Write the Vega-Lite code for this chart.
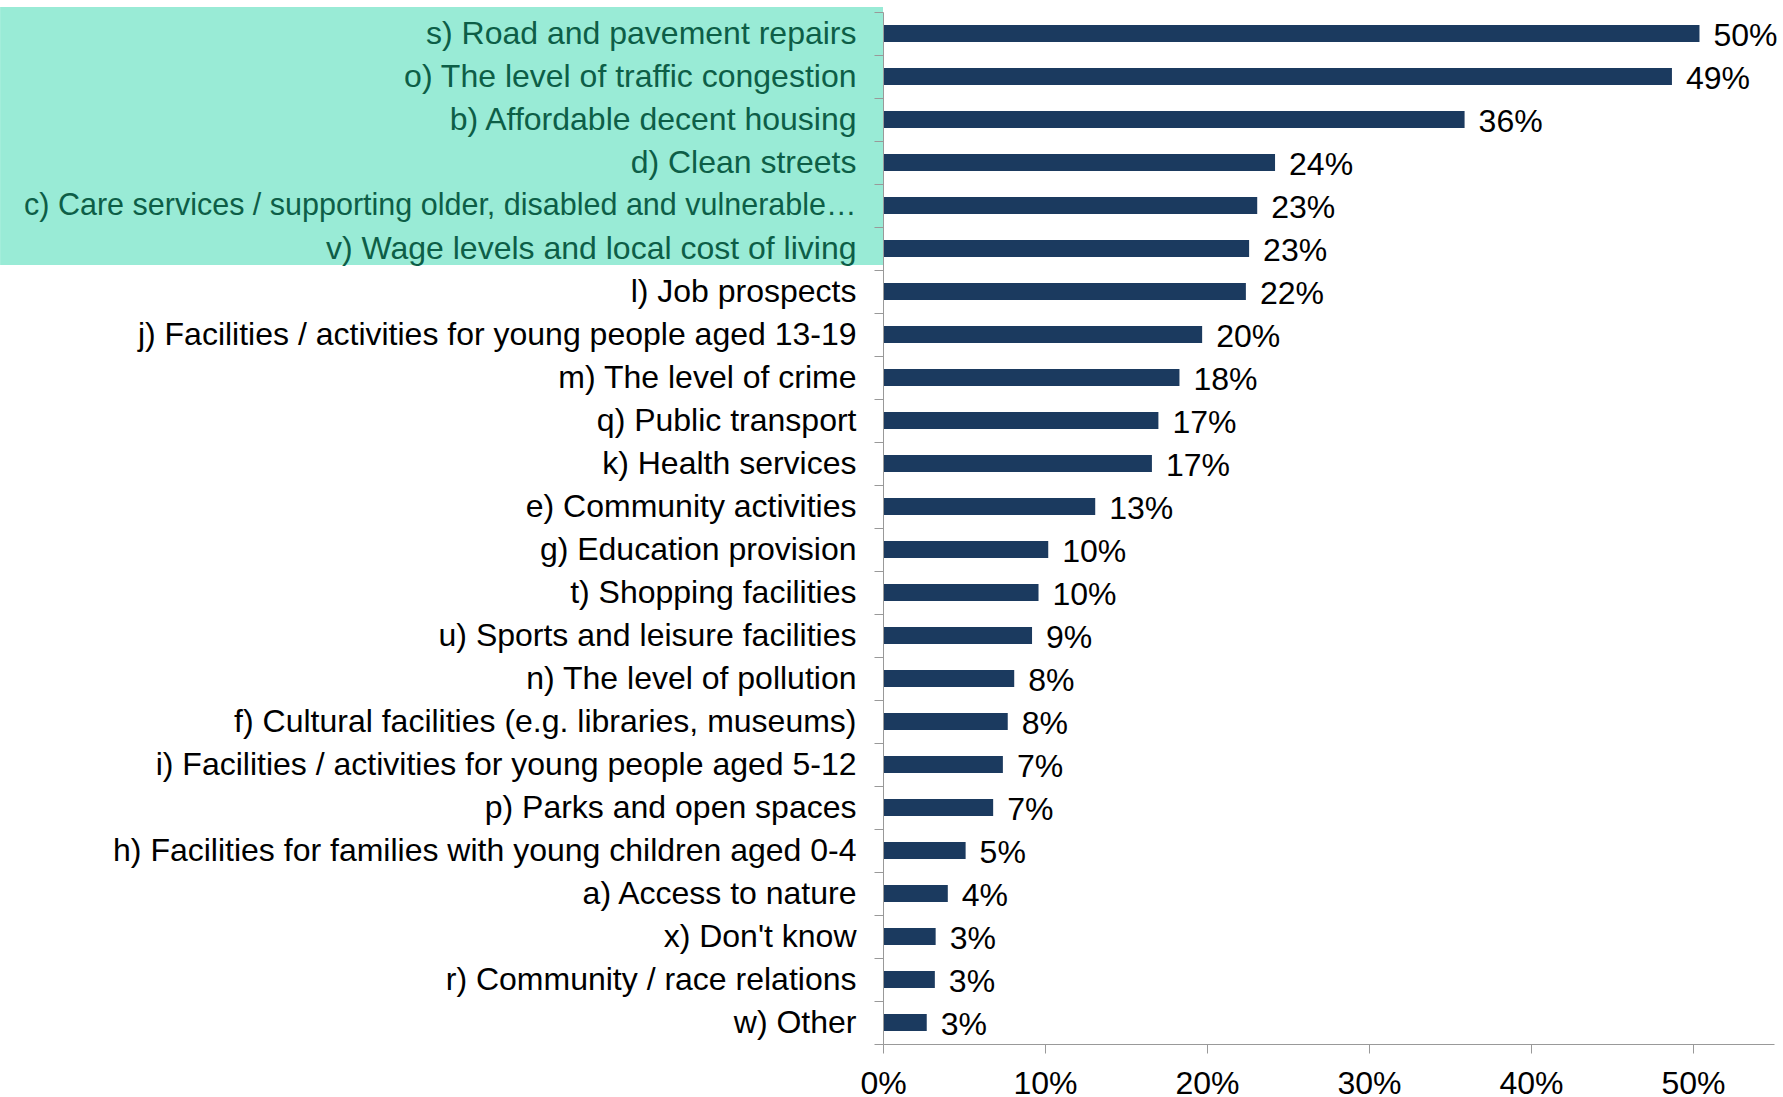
{
  "$schema": "https://vega.github.io/schema/vega-lite/v6.json",
  "width": 891,
  "height": 1032,
  "autosize": "none",
  "padding": {"left": 883, "top": 12, "right": 9, "bottom": 53},
  "background": "white",
  "config": {"view": {"stroke": null}, "font": "Liberation Sans"},
  "data": {"values": [
    {"item": "s) Road and pavement repairs", "value": 0.504, "hl": 1},
    {"item": "o) The level of traffic congestion", "value": 0.487, "hl": 1},
    {"item": "b) Affordable decent housing", "value": 0.359, "hl": 1},
    {"item": "d) Clean streets", "value": 0.242, "hl": 1},
    {"item": "c) Care services / supporting older, disabled and vulnerable…", "value": 0.231, "hl": 1},
    {"item": "v) Wage levels and local cost of living", "value": 0.226, "hl": 1},
    {"item": "l) Job prospects", "value": 0.224, "hl": 0},
    {"item": "j) Facilities / activities for young people aged 13-19", "value": 0.197, "hl": 0},
    {"item": "m) The level of crime", "value": 0.183, "hl": 0},
    {"item": "q) Public transport", "value": 0.170, "hl": 0},
    {"item": "k) Health services", "value": 0.166, "hl": 0},
    {"item": "e) Community activities", "value": 0.131, "hl": 0},
    {"item": "g) Education provision", "value": 0.102, "hl": 0},
    {"item": "t) Shopping facilities", "value": 0.096, "hl": 0},
    {"item": "u) Sports and leisure facilities", "value": 0.092, "hl": 0},
    {"item": "n) The level of pollution", "value": 0.081, "hl": 0},
    {"item": "f) Cultural facilities (e.g. libraries, museums)", "value": 0.077, "hl": 0},
    {"item": "i) Facilities / activities for young people aged 5-12", "value": 0.074, "hl": 0},
    {"item": "p) Parks and open spaces", "value": 0.068, "hl": 0},
    {"item": "h) Facilities for families with young children aged 0-4", "value": 0.051, "hl": 0},
    {"item": "a) Access to nature", "value": 0.040, "hl": 0},
    {"item": "x) Don't know", "value": 0.0325, "hl": 0},
    {"item": "r) Community / race relations", "value": 0.032, "hl": 0},
    {"item": "w) Other", "value": 0.027, "hl": 0}
  ]},
  "encoding": {
    "y": {
      "field": "item", "type": "nominal", "sort": null,
      "scale": {"paddingInner": 0, "paddingOuter": 0},
      "axis": {
        "title": null, "zindex": 1,
        "labelFontSize": {"condition": {"test": "indexof(['c) Care services / supporting older, disabled and vulnerable…'], datum.value) >= 0", "value": 30.5}, "value": 32},
        "labelLimit": 1000, "labelPadding": 18,
        "labelColor": {"condition": {"test": "indexof(['s) Road and pavement repairs','o) The level of traffic congestion','b) Affordable decent housing','d) Clean streets','c) Care services / supporting older, disabled and vulnerable…','v) Wage levels and local cost of living'], datum.value) >= 0", "value": "#0d5e47"}, "value": "#000000"},
        "tickBand": "extent", "tickSize": 9, "tickColor": "#999999", "domainColor": "#999999", "grid": false
      }
    }
  },
  "layer": [
    {
      "mark": {"type": "bar", "color": "#1b3a5f", "height": {"band": 0.4}},
      "encoding": {
        "x": {
          "field": "value", "type": "quantitative",
          "scale": {"domain": [0, 0.55], "nice": false},
          "axis": {
            "title": null, "values": [0, 0.1, 0.2, 0.3, 0.4, 0.5], "format": ".0%",
            "labelFontSize": 32, "labelColor": "#000000", "labelPadding": 15, "labelFlush": false,
            "tickSize": 9, "tickColor": "#999999", "domainColor": "#999999", "grid": false
          }
        }
      }
    },
    {
      "transform": [{"filter": "datum.hl == 1"}],
      "mark": {"type": "bar", "color": "#99ebd6", "height": {"band": 1}, "yOffset": -5},
      "encoding": {
        "x": {"datum": -0.545, "type": "quantitative"},
        "x2": {"datum": 0}
      }
    },
    {
      "mark": {"type": "text", "align": "left", "baseline": "middle", "dx": 14, "dy": 2, "fontSize": 32, "color": "#000000"},
      "encoding": {
        "x": {"field": "value", "type": "quantitative"},
        "text": {"field": "value", "type": "quantitative", "format": ".0%"}
      }
    }
  ]
}
